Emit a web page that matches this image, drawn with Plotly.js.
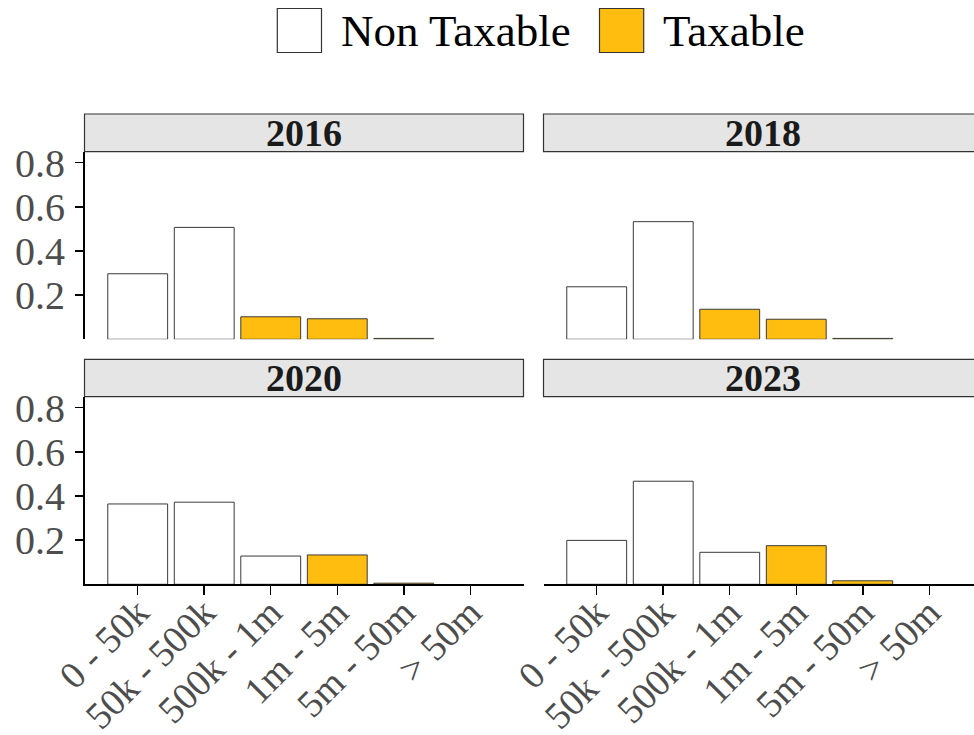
<!DOCTYPE html>
<html>
<head>
<meta charset="utf-8">
<script src="https://cdn.plot.ly/plotly-3.0.1.min.js"></script>
<style>
html, body { margin:0; padding:0; overflow:hidden; background:#fff; }
#chart { width:984px; height:735px; }
</style>
</head>
<body>
<div id="chart"></div>
<script>
const categories = ["0 - 50k", "50k - 500k", "500k - 1m", "1m - 5m", "5m - 50m", "> 50m"];
const years = ["2016", "2018", "2020", "2023"];
const nonTaxable2016 = [0.297, 0.507, null, null, null, null];
const taxable2016    = [null, null, 0.102, 0.093, 0.004, null];
const nonTaxable2018 = [0.238, 0.533, null, null, null, null];
const taxable2018    = [null, null, 0.136, 0.091, 0.004, null];
const nonTaxable2020 = [0.364, 0.372, 0.128, null, null, null];
const taxable2020    = [null, null, null, 0.133, 0.005, null];
const nonTaxable2023 = [0.199, 0.467, 0.145, null, null, null];
const taxable2023    = [null, null, null, 0.175, 0.016, null];
const yTicks = [0.2, 0.4, 0.6, 0.8];
const yTickText = ["0.2", "0.4", "0.6", "0.8"];
const seriesNames = ["Non Taxable", "Taxable"];

const W = 984, H = 735;
const px = v => v / W;
const py = v => 1 - v / H;
const FONT = "Liberation Serif";
const COL_NT = "#ffffff", COL_T = "#ffbe0f", EDGE = "#3a3a3a";

const panelData = [
  [nonTaxable2016, taxable2016],
  [nonTaxable2018, taxable2018],
  [nonTaxable2020, taxable2020],
  [nonTaxable2023, taxable2023]
];
const xDom = [[px(84.5), px(523.5)], [px(543.5), px(982.5)]];
const yDom = [[py(339.3), py(151.7)], [py(584.3), py(396.7)]];
const stripY = [[py(151.7), py(114)], [py(396.7), py(359.3)]];

const traces = [];
panelData.forEach((pd, i) => {
  const suf = i === 0 ? "" : String(i + 1);
  [0, 1].forEach(s => {
    traces.push({
      type: "bar",
      x: categories,
      y: pd[s],
      name: seriesNames[s],
      xaxis: "x" + suf,
      yaxis: "y" + suf,
      width: 0.9,
      marker: { color: s === 0 ? COL_NT : COL_T, line: { color: EDGE, width: 1 } },
      showlegend: false,
      hoverinfo: "x+y"
    });
  });
});

const layout = {
  width: W, height: H,
  margin: { l: 0, r: 0, t: 0, b: 0 },
  paper_bgcolor: "#fff", plot_bgcolor: "#fff",
  barmode: "overlay",
  showlegend: false,
  font: { family: FONT, color: "#4d4d4d" },
  shapes: [], annotations: []
};

for (let i = 0; i < 4; i++) {
  const row = Math.floor(i / 2), col = i % 2;
  const suf = i === 0 ? "" : String(i + 1);
  const bottom = row === 1, left = col === 0;
  layout["xaxis" + suf] = {
    domain: xDom[col], anchor: "y" + suf,
    type: "category", categoryorder: "array", categoryarray: categories,
    range: [-0.8, 5.8], fixedrange: true,
    showgrid: false, zeroline: false,
    showline: bottom, linecolor: "#000", linewidth: 1.6,
    ticks: bottom ? "outside" : "", ticklen: 9, tickwidth: 1.5, tickcolor: "#000",
    showticklabels: bottom, tickangle: -45, ticklabelstandoff: -20,
    tickfont: { family: FONT, size: 38, color: "#4d4d4d" }
  };
  layout["yaxis" + suf] = {
    domain: yDom[row], anchor: "x" + suf,
    range: [0, 0.85], fixedrange: true,
    showgrid: false, zeroline: false,
    showline: left, linecolor: "#000", linewidth: 1.6,
    tickmode: "array", tickvals: yTicks, ticktext: yTickText,
    ticks: left ? "outside" : "", ticklen: 8, tickwidth: 1.5, tickcolor: "#000",
    showticklabels: left, ticklabelstandoff: 2,
    tickfont: { family: FONT, size: 40, color: "#4d4d4d" }
  };
  // strip
  layout.shapes.push({
    type: "rect", xref: "paper", yref: "paper",
    x0: xDom[col][0], x1: xDom[col][1], y0: stripY[row][0], y1: stripY[row][1],
    fillcolor: "#e5e5e5", line: { color: "#333333", width: 1.2 }
  });
  layout.annotations.push({
    xref: "paper", yref: "paper",
    x: (xDom[col][0] + xDom[col][1]) / 2, y: (stripY[row][0] + stripY[row][1]) / 2,
    xanchor: "center", yanchor: "middle", showarrow: false,
    text: "<b>" + years[i] + "</b>",
    font: { family: FONT, size: 38, color: "#1a1a1a" }
  });
}

// legend
const legItems = [
  { x0: 277.3, x1: 321.5, tx: 339, color: COL_NT, label: seriesNames[0] },
  { x0: 599.5, x1: 643.7, tx: 661, color: COL_T, label: seriesNames[1] }
];
legItems.forEach(it => {
  layout.shapes.push({
    type: "rect", xref: "paper", yref: "paper",
    x0: px(it.x0), x1: px(it.x1), y0: py(52.5), y1: py(8.5),
    fillcolor: it.color, line: { color: "#333333", width: 1.2 }
  });
  layout.annotations.push({
    xref: "paper", yref: "paper", x: px(it.tx), y: py(31),
    xanchor: "left", yanchor: "middle", showarrow: false,
    text: it.label, font: { family: FONT, size: 45, color: "#000" }
  });
});

Plotly.newPlot("chart", traces, layout, { staticPlot: true, displayModeBar: false });
</script>
</body>
</html>
